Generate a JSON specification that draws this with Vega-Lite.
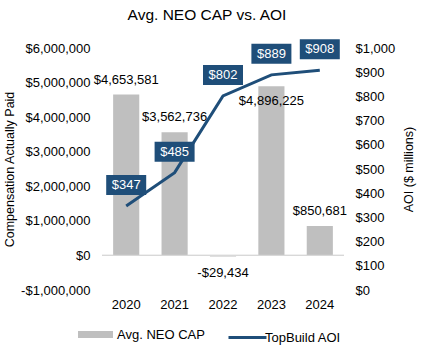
{
  "$schema": "https://vega.github.io/schema/vega-lite/v6.json",
  "width": 242,
  "height": 242,
  "autosize": {"type": "none"},
  "padding": {"left": 102, "top": 48, "right": 78, "bottom": 62},
  "background": "white",
  "config": {
    "font": "Liberation Sans",
    "view": {"stroke": null},
    "axis": {"grid": false, "domain": false, "ticks": false, "labelFontSize": 13, "labelColor": "#000000", "titleFontSize": 12.5, "titleFontWeight": "normal", "titleColor": "#000000"},
    "legend": {"labelFontSize": 13, "labelColor": "#000000"}
  },
  "title": {"text": "Avg. NEO CAP vs. AOI", "fontSize": 15.5, "fontWeight": "normal", "color": "#000000", "anchor": "middle", "dx": -16, "offset": 16},
  "data": {
    "values": [
      {"year": "2020", "cap": 4653581, "aoi": 347},
      {"year": "2021", "cap": 3562736, "aoi": 485},
      {"year": "2022", "cap": -29434, "aoi": 802},
      {"year": "2023", "cap": 4896225, "aoi": 889},
      {"year": "2024", "cap": 850681, "aoi": 908}
    ]
  },
  "transform": [
    {"calculate": "datum.cap < 0 ? '-$' + format(-datum.cap, ',') : '$' + format(datum.cap, ',')", "as": "capLabel"},
    {"calculate": "'$' + format(datum.aoi, ',')", "as": "aoiLabel"}
  ],
  "encoding": {
    "x": {"field": "year", "type": "nominal", "scale": {"paddingInner": 0.46, "paddingOuter": 0.23}, "axis": {"title": null, "labelAngle": 0, "labelPadding": 8, "orient": "bottom"}}
  },
  "layer": [
    {
      "encoding": {
        "y": {"field": "cap", "type": "quantitative", "scale": {"domain": [-1000000, 6000000], "nice": false, "zero": false},
          "axis": {"title": "Compensation Actually Paid", "orient": "left", "values": [-1000000, 0, 1000000, 2000000, 3000000, 4000000, 5000000, 6000000], "labelExpr": "datum.value < 0 ? '-$' + format(-datum.value, ',') : '$' + format(datum.value, ',')", "labelPadding": 12, "titleX": -93, "titleBaseline": "middle"}}
      },
      "layer": [
        {"mark": {"type": "bar", "color": "#BFBFBF"},
         "encoding": {"fill": {"datum": "Avg. NEO CAP", "scale": {"range": ["#BFBFBF"]}, "legend": {"title": null, "orient": "none", "legendX": -24, "legendY": 269, "symbolType": "M-1,-0.2H1V0.2H-1Z", "symbolSize": 1225, "symbolStrokeWidth": 0, "labelOffset": 4}}}},
        {"mark": {"type": "rule", "color": "#D9D9D9", "strokeWidth": 1}, "encoding": {"y": {"datum": 0}, "x": {"value": 0}, "x2": {"value": 242}}},
        {"transform": [{"filter": "datum.cap >= 0 && datum.year != '2023'"}], "mark": {"type": "text", "fontSize": 13, "color": "#000000", "dy": -15, "baseline": "middle"}, "encoding": {"text": {"field": "capLabel"}}},
        {"transform": [{"filter": "datum.year == '2023'"}], "mark": {"type": "text", "fontSize": 13, "color": "#000000", "dy": 15, "baseline": "middle"}, "encoding": {"text": {"field": "capLabel"}}},
        {"transform": [{"filter": "datum.cap < 0"}], "mark": {"type": "text", "fontSize": 13, "color": "#000000", "dy": 17, "baseline": "middle"}, "encoding": {"text": {"field": "capLabel"}}}
      ]
    },
    {
      "encoding": {
        "y": {"field": "aoi", "type": "quantitative", "scale": {"domain": [0, 1000], "nice": false},
          "axis": {"title": "AOI ($ millions)", "orient": "right", "values": [0, 100, 200, 300, 400, 500, 600, 700, 800, 900, 1000], "labelExpr": "'$' + format(datum.value, ',')", "labelPadding": 11, "titleX": 64, "titleAngle": 270, "titleBaseline": "middle"}}
      },
      "layer": [
        {"mark": {"type": "line", "strokeWidth": 3},
         "encoding": {"stroke": {"datum": "TopBuild AOI", "scale": {"range": ["#1F4E79"]}, "legend": {"title": null, "orient": "none", "legendX": 125, "legendY": 269, "symbolType": "stroke", "symbolSize": 1444, "symbolStrokeWidth": 3, "labelOffset": -3}}}},
        {"mark": {"type": "point", "shape": "M-1,-0.5H1V0.5H-1Z", "filled": true, "size": 1600, "color": "#1F4E79", "opacity": 1, "yOffset": -21}},
        {"mark": {"type": "text", "fontSize": 13, "color": "#FFFFFF", "dy": -21, "baseline": "middle"}, "encoding": {"text": {"field": "aoiLabel"}}}
      ]
    }
  ],
  "resolve": {"scale": {"y": "independent", "fill": "independent", "stroke": "independent"}}
}
